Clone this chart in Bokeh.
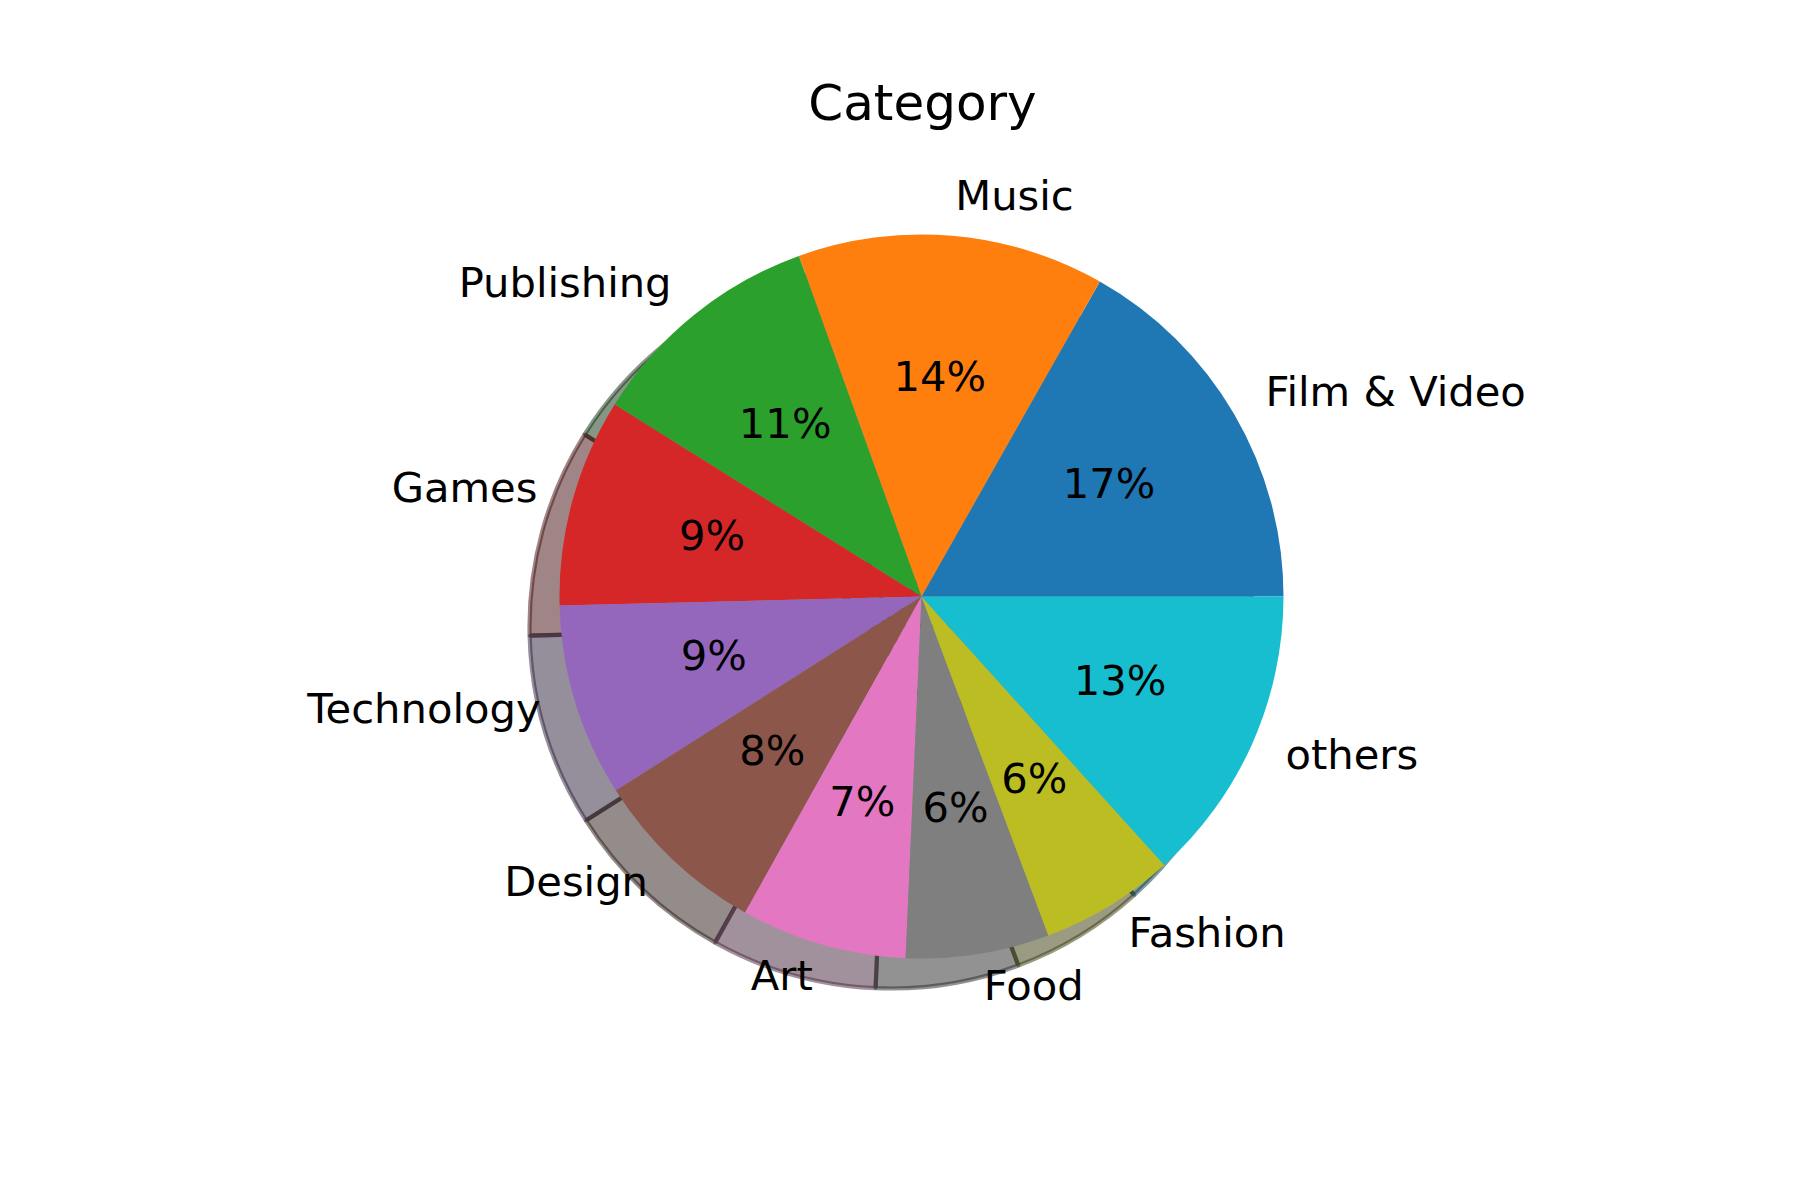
import math
from bokeh.plotting import figure
from bokeh.models import Range1d, ColumnDataSource
from bokeh.core.properties import value
from bokeh.embed import file_html
from bokeh.resources import INLINE

# ---- data ----
categories = ["Film & Video", "Music", "Publishing", "Games", "Technology",
              "Design", "Art", "Food", "Fashion", "others"]
shares = [16.8, 13.7, 10.6, 9.3, 8.6, 7.9, 7.4, 6.4, 6.0, 13.3]
colors = ["#1f77b4", "#ff7f0e", "#2ca02c", "#d62728", "#9467bd",
          "#8c564b", "#e377c2", "#7f7f7f", "#bcbd22", "#17becf"]
title_text = "Category"

# ---- layout (pixels) ----
W, H = 1784, 1184
CX, CY = 921, 596          # pie centre in canvas px (from top-left)
R_PX = 362.0               # radius in px
SHADOW_PX = 30.0
FONT = "DejaVu Sans"
TXT_DY = 4.0               # px to lift middle-baseline text
TITLE_Y = 102.0            # title centre, px from top

x0 = -CX / R_PX
x1 = (W - CX) / R_PX
y0 = -(H - CY) / R_PX
y1 = CY / R_PX

p = figure(width=W, height=H, x_range=Range1d(x0, x1), y_range=Range1d(y0, y1),
           output_backend="svg", toolbar_location=None, min_border=0)
p.axis.visible = False
p.grid.visible = False
p.outline_line_color = None
p.background_fill_color = "white"
p.border_fill_color = "white"

total = float(sum(shares))
starts, ends, mids = [], [], []
acc = 0.0
for s in shares:
    a0 = 2 * math.pi * acc / total
    acc += s
    a1 = 2 * math.pi * acc / total
    starts.append(a0)
    ends.append(a1)
    mids.append((a0 + a1) / 2)

def dark(hexc, f=0.3):
    r = int(hexc[1:3], 16); g = int(hexc[3:5], 16); b = int(hexc[5:7], 16)
    return "#%02x%02x%02x" % (int(r * f), int(g * f), int(b * f))

shadow_cols = [dark(c) for c in colors]
off = SHADOW_PX / R_PX
lift = TXT_DY / R_PX

# shadows
sh = ColumnDataSource(dict(x=[-off] * len(shares), y=[-off] * len(shares),
                           start=starts, end=ends, fc=shadow_cols))
p.wedge(x="x", y="y", radius=1.0, start_angle="start", end_angle="end",
        fill_color="fc", fill_alpha=0.5, line_color="fc", line_alpha=0.5,
        line_width=4.17, source=sh)

# main wedges
src = ColumnDataSource(dict(x=[0.0] * len(shares), y=[0.0] * len(shares),
                            start=starts, end=ends, fc=colors))
p.wedge(x="x", y="y", radius=1.0, start_angle="start", end_angle="end",
        fill_color="fc", line_color=None, source=src)

# labels at 1.1 R
lx = [1.1 * math.cos(m) for m in mids]
ly = [1.1 * math.sin(m) + lift for m in mids]
left_idx = [i for i in range(len(mids)) if lx[i] > 0]
right_idx = [i for i in range(len(mids)) if lx[i] <= 0]
for idxs, align in ((left_idx, "left"), (right_idx, "right")):
    p.text(x=[lx[i] for i in idxs], y=[ly[i] for i in idxs],
           text=[categories[i] for i in idxs],
           text_font=value(FONT), text_font_size=value("41.67px"),
           text_align=align, text_baseline="middle", text_color="black")

# percentages at 0.6 R
px_ = [0.6 * math.cos(m) for m in mids]
py_ = [0.6 * math.sin(m) + lift for m in mids]
pct = ["%.0f%%" % (100.0 * s / total) for s in shares]
p.text(x=px_, y=py_, text=pct, text_font=value(FONT),
       text_font_size=value("41.67px"), text_align="center",
       text_baseline="middle", text_color="black")

# title
p.text(x=[(922 - CX) / R_PX], y=[(CY - TITLE_Y) / R_PX], text=[title_text],
       text_font=value(FONT), text_font_size=value("50px"),
       text_align="center", text_baseline="middle", text_color="black")

open("out.html", "w").write(file_html(p, INLINE))
